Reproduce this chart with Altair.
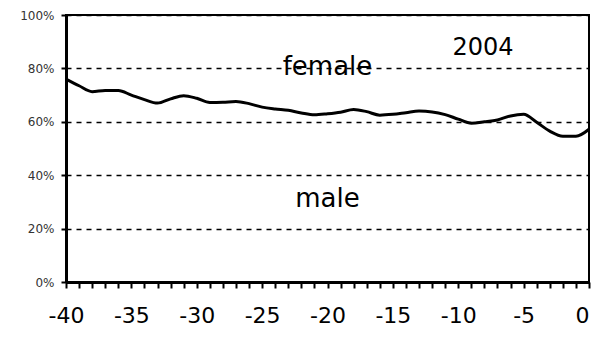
import altair as alt
import pandas as pd

years = list(range(-40, 1))
female_share = [76, 73.5, 71.3, 71.7, 71.7, 70, 68.3, 67, 68.6, 69.8,
                68.8, 67.2, 67.3, 67.6, 66.8, 65.5, 64.8, 64.3, 63.3, 62.6,
                63, 63.6, 64.6, 63.8, 62.5, 62.8, 63.4, 64, 63.7, 62.7,
                61, 59.5, 60, 60.7, 62.2, 62.8, 59.8, 56.5, 54.6, 54.6, 57.2]

labels_text = ["female", "male", "2004"]
labels_x = [-20.0, -20.0, -8.1]
labels_y = [0.806, 0.31, 0.88]
labels_size = [26, 26, 24]

df = pd.DataFrame({"x": years, "y": [v / 100 for v in female_share]})
lab = pd.DataFrame({"x": labels_x, "y": labels_y, "t": labels_text, "s": labels_size})

FONT = "DejaVu Sans"

xscale = alt.Scale(domain=[-40, 0], nice=False, zero=False)
yscale = alt.Scale(domain=[0, 1], nice=False)

xaxis = alt.Axis(
    values=years, labelExpr="datum.value % 5 == 0 ? toString(datum.value) : ''",
    title=None, grid=False, ticks=True, tickSize=6, tickColor="black", tickWidth=2,
    domainColor="black", domainWidth=3, labelFont=FONT, labelFontSize=22,
    labelColor="black", labelPadding=17, labelFlush=False, labelOverlap=False,
    labelAlign={"condition": {"test": "datum.value == 0", "value": "right"}, "value": "center"})
yaxis = alt.Axis(
    values=[0, 0.2, 0.4, 0.6, 0.8, 1.0], format=".0%", title=None,
    grid=True, gridColor="black", gridDash=[5, 5], gridWidth=1.5,
    ticks=True, tickSize=5, tickColor="black", tickWidth=2, domainColor="black",
    domainWidth=3, labelFont=FONT, labelFontSize=12, labelColor="#333333",
    labelPadding=7)

X = alt.X("x:Q", scale=xscale, axis=xaxis)
Y = alt.Y("y:Q", scale=yscale, axis=yaxis)

line = alt.Chart(df).mark_line(color="black", strokeWidth=3, interpolate="monotone").encode(
    x=X, y=Y)

text = alt.Chart(lab).mark_text(font=FONT, color="black", baseline="alphabetic", align="center", dy=8).encode(
    x=X, y=Y,
    text="t:N",
    size=alt.Size("s:Q", scale=None, legend=None),
)

chart = alt.layer(line, text).properties(
    width=523, height=267,
    autosize=alt.AutoSizeParams(type="none"),
    padding={"left": 58, "top": 7, "right": 3, "bottom": 49},
    background="white",
).configure_view(stroke="black", strokeWidth=2)

chart.save("out.html", embed_options={"renderer": "svg", "actions": False})
